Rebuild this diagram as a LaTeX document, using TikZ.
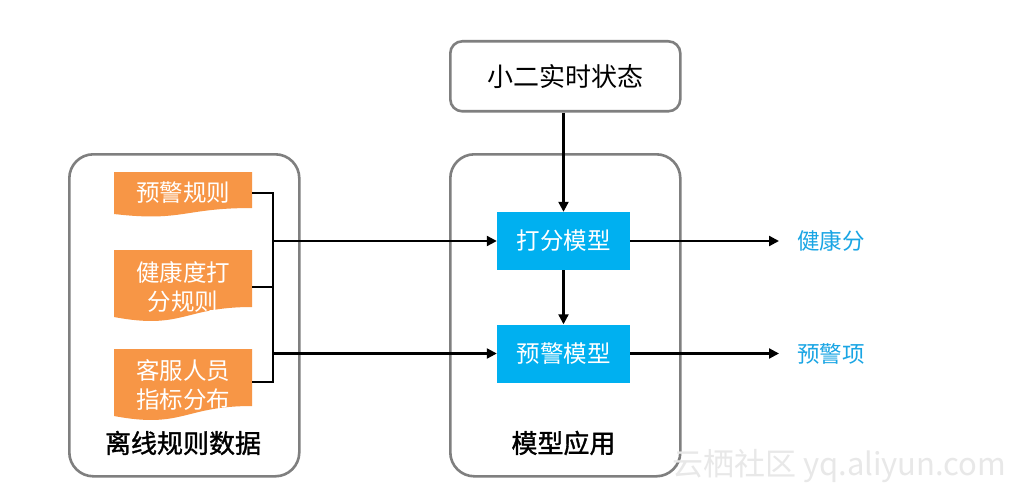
\documentclass[tikz,border=0pt]{standalone}
\usepackage{fontspec}
\setmainfont{Noto Sans CJK SC}
\newfontfamily\cjkheavy[FakeBold=1.2]{Noto Sans CJK SC}
\usetikzlibrary{arrows.meta}
\definecolor{boxgray}{RGB}{127,127,127}
\definecolor{orng}{RGB}{247,150,70}
\definecolor{cyanb}{RGB}{0,176,240}
\definecolor{outblue}{RGB}{25,165,228}
\definecolor{wmark}{RGB}{232,232,232}
\begin{document}
\begin{tikzpicture}[x=1pt,y=-1pt,
  container/.style={draw=boxgray,line width=2.6pt,rounded corners=24pt,anchor=north west},
  topbox/.style={draw=boxgray,line width=2.6pt,rounded corners=12pt,anchor=north west},
  doctext/.style={text=white,inner sep=0pt,minimum width=138,align=center,font=\fontsize{23.5}{29}\selectfont},
  model/.style={fill=cyanb,text=white,minimum width=133,minimum height=58,inner sep=0pt,font=\fontsize{23.5}{27}\selectfont},
  outlabel/.style={text=outblue,inner sep=0pt,anchor=west,font=\fontsize{22.5}{26}\selectfont},
  biglabel/.style={text=black,inner sep=0pt,font=\fontsize{26}{30}\selectfont},
  heavylabel/.style={text=black,inner sep=0pt,font=\cjkheavy\fontsize{26}{30}\selectfont},
  conn/.style={draw=black,line width=2.2pt},
  arr/.style={conn,-{Triangle[length=10pt,width=10pt]}}
]
\useasboundingbox (0,0) rectangle (1013,495);
\fill[white] (0,0) rectangle (1013,495);

% containers
\node[container,minimum width=230,minimum height=322] (left) at (68,153) {};
\node[container,minimum width=230,minimum height=322] (mid) at (449,153) {};
\node[topbox,minimum width=230,minimum height=70] (state) at (449,40) {};
\node[biglabel] (statet) at (state.center) {小二实时状态};

% orange document shapes
\fill[orng] (114,172) -- (252,172) -- (252,208) .. controls (183,208) and (183,222) .. (114,214) -- cycle;
\fill[orng] (114,250) -- (252,250) -- (252,307) .. controls (183,307) and (183,330) .. (114,317) -- cycle;
\fill[orng] (114,349) -- (252,349) -- (252,406) .. controls (183,406) and (183,429) .. (114,416) -- cycle;
\node[doctext] (r1) at (183,193) {预警规则};
\node[doctext] (r2) at (183,287) {健康度打\\分规则};
\node[doctext] (r3) at (183,385) {客服人员\\指标分布};

% models
\node[model] (m1) at (563.5,241) {打分模型};
\node[model] (m2) at (563.5,353.5) {预警模型};

% outputs
\node[outlabel] (o1) at (797,241) {健康分};
\node[outlabel] (o2) at (797,353.5) {预警项};

% container labels
\node[heavylabel] (lt) at (183,443) {离线规则数据};
\node[heavylabel] (mt) at (563.5,443) {模型应用};

% bracket
\coordinate (j1) at (273,193);
\coordinate (b1) at (273,241);
\coordinate (b2) at (273,353.5);
\draw[conn] (r1.east) -- (j1) |- (252,382);
\draw[conn] (r2.east) -- (r2.east -| j1);
\draw[arr] (b1) -- (m1.west);
\draw[arr] (b2) -- (m2.west);

% vertical arrows
\draw[arr] (state.south -| m1.north) -- (m1.north);
\draw[arr] (m1.south) -- (m2.north);

% output arrows
\draw[arr,shorten >=18pt] (m1.east) -- (o1.west);
\draw[arr,shorten >=18pt] (m2.east) -- (o2.west);

% watermark
\node[text=wmark,inner sep=0pt,anchor=west,font=\fontsize{31}{33}\selectfont] (wm) at (672,466) {云栖社区 yq.aliyun.com};
\end{tikzpicture}
\end{document}
